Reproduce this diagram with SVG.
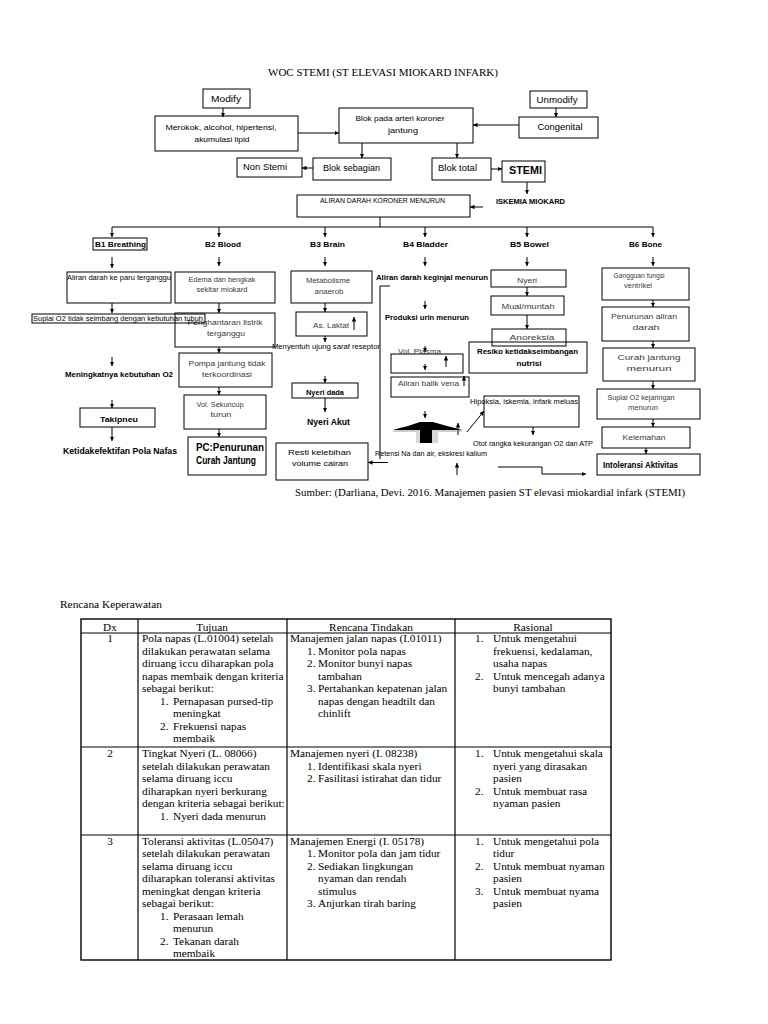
<svg xmlns="http://www.w3.org/2000/svg" width="768" height="1024" viewBox="0 0 768 1024">
<defs>
<marker id="ah" viewBox="0 0 10 10" refX="10" refY="5" markerWidth="4.5" markerHeight="4.5" orient="auto"><path d="M0,0 L10,5 L0,10 z" fill="#000"/></marker>
<style>
.box{fill:none;stroke:#000;stroke-width:1}
.t{font-family:"Liberation Sans",Arial,sans-serif;fill:#000}
.g{fill:#3a3a3a}
.b{font-weight:bold}
.c{text-anchor:middle}
.s{font-family:"Liberation Serif","Times New Roman",serif;fill:#000}
.tb{font-family:"Liberation Serif","Times New Roman",serif;font-size:11.3px;fill:#000}
.conn path{fill:none;stroke:#000;stroke-width:1}
.conn .a{marker-end:url(#ah)}
.grid line{stroke:#000;stroke-width:1.2}
</style>
</defs>
<rect width="768" height="1024" fill="#fff"/>

<text class="s c" x="383" y="75.5" font-size="10" textLength="230" lengthAdjust="spacingAndGlyphs">WOC STEMI (ST ELEVASI MIOKARD INFARK)</text>

<g id="connectors" class="conn">
<path class="a" d="M223,108 V117"/>
<path class="a" d="M298,133 H339"/>
<path class="a" d="M556,108 V117"/>
<path class="a" d="M519,125 H473"/>
<path class="a" d="M362,143 V158"/>
<path class="a" d="M313,168 H302"/>
<path class="a" d="M457,143 V158"/>
<path class="a" d="M491,169 H502"/>
<path class="a" d="M527,182 V194"/>
<path class="a" d="M483,207 H470"/>
<path d="M380,217 V227"/>
<path d="M112,227 H653"/>
<path class="a" d="M112,227 V237"/>
<path class="a" d="M219,227 V237"/>
<path class="a" d="M325,227 V237"/>
<path class="a" d="M425,227 V237"/>
<path class="a" d="M527,227 V237"/>
<path class="a" d="M653,227 V237"/>
<path class="a" d="M112,257 V268"/>
<path class="a" d="M219,257 V266"/>
<path class="a" d="M325,257 V266"/>
<path class="a" d="M425,257 V266"/>
<path class="a" d="M527,257 V266"/>
<path class="a" d="M653,257 V266"/>
<path class="a" d="M112,303 V313"/>
<path class="a" d="M112,357 V366"/>
<path class="a" d="M112,400 V408"/>
<path class="a" d="M112,427 V441"/>
<path class="a" d="M219,303 V313"/>
<path class="a" d="M219,347 V353"/>
<path class="a" d="M219,387 V395"/>
<path class="a" d="M219,429 V437"/>
<path class="a" d="M325,303 V312"/>
<path class="a" d="M325,336 V342"/>
<path class="a" d="M325,376 V383"/>
<path class="a" d="M325,398 V412"/>
<path class="a" d="M354,330 V317"/>
<path class="a" d="M425,301 V309"/>
<path class="a" d="M425,346 V352"/>
<path class="a" d="M425,364 V370"/>
<path class="a" d="M446,367 V356"/>
<path class="a" d="M464,386 V376"/>
<path class="a" d="M425,411 V418"/>
<path class="a" d="M458,435 V423"/>
<path d="M390,286 H380 V459"/>
<path class="a" d="M388,462.5 H368"/>
<path class="a" d="M457,475 V463"/>
<path class="a" d="M467,432 L484,411"/>
<path class="a" d="M533,427 V435"/>
<path d="M498,467 H542 V474"/>
<path class="a" d="M542,474 H586"/>
<path class="a" d="M527,287 V296"/>
<path class="a" d="M527,315 V329"/>
<path class="a" d="M653,300 V307"/>
<path class="a" d="M653,341 V348"/>
<path class="a" d="M653,381 V389"/>
<path class="a" d="M653,419 V427"/>
<path class="a" d="M646,448 V454"/>
</g>

<g id="n-modify"><rect class="box" x="203" y="89" width="47" height="19"/><text class="t c" x="226" y="101.5" font-size="8.5" textLength="30" lengthAdjust="spacingAndGlyphs">Modify</text></g>
<g id="n-unmodify"><rect class="box" x="530" y="91" width="57" height="17"/><text class="t c" x="557" y="103" font-size="8.5" textLength="41" lengthAdjust="spacingAndGlyphs">Unmodify</text></g>
<g id="n-risk"><rect class="box" x="155" y="116" width="143" height="35"/>
<text class="t c" x="221" y="130" font-size="7.5" textLength="111" lengthAdjust="spacingAndGlyphs">Merokok, alcohol, hipertensi,</text>
<text class="t c" x="222" y="141.5" font-size="7.5" textLength="55" lengthAdjust="spacingAndGlyphs">akumulasi lipid</text></g>
<g id="n-blok"><rect class="box" x="339" y="108" width="134" height="35"/>
<text class="t c" x="400" y="121" font-size="7.5" textLength="89" lengthAdjust="spacingAndGlyphs">Blok pada arteri koroner</text>
<text class="t c" x="403" y="133" font-size="7.5" textLength="30" lengthAdjust="spacingAndGlyphs">jantung</text></g>
<g id="n-congenital"><rect class="box" x="519" y="117" width="79" height="21"/><text class="t c" x="560" y="129.5" font-size="9" textLength="45" lengthAdjust="spacingAndGlyphs">Congenital</text></g>
<g id="n-sebagian"><rect class="box" x="313" y="158" width="78" height="22"/><text class="t" x="323" y="170.5" font-size="8.5" textLength="57" lengthAdjust="spacingAndGlyphs">Blok sebagian</text></g>
<g id="n-nonstemi"><rect class="box" x="237" y="158" width="65" height="19"/><text class="t" x="243" y="170" font-size="9" textLength="44" lengthAdjust="spacingAndGlyphs">Non Stemi</text></g>
<g id="n-total"><rect class="box" x="432" y="158" width="59" height="22"/><text class="t" x="438" y="170.5" font-size="8.5" textLength="39" lengthAdjust="spacingAndGlyphs">Blok total</text></g>
<g id="n-stemi"><rect class="box" x="502" y="161" width="43" height="21" stroke-width="1.3"/><text class="t b" x="509" y="174" font-size="11" textLength="33" lengthAdjust="spacingAndGlyphs">STEMI</text></g>
<g id="n-iskemia"><text class="t b" x="496" y="204.3" font-size="7.3" textLength="69" lengthAdjust="spacingAndGlyphs">ISKEMIA MIOKARD</text></g>
<g id="n-aliran"><rect class="box" x="297" y="195" width="173" height="22"/><text class="t" x="320" y="202.5" font-size="6.5" textLength="125" lengthAdjust="spacingAndGlyphs">ALIRAN DARAH KORONER MENURUN</text></g>

<g id="n-b1"><rect class="box" x="93" y="238" width="54" height="12"/><text class="t b" x="95" y="246.5" font-size="8" textLength="51" lengthAdjust="spacingAndGlyphs">B1 Breathing</text></g>
<g id="n-b2"><text class="t b" x="205" y="246.5" font-size="8" textLength="36" lengthAdjust="spacingAndGlyphs">B2 Blood</text></g>
<g id="n-b3"><text class="t b" x="310" y="246.5" font-size="8" textLength="35" lengthAdjust="spacingAndGlyphs">B3 Brain</text></g>
<g id="n-b4"><text class="t b" x="403" y="246.5" font-size="8" textLength="45" lengthAdjust="spacingAndGlyphs">B4 Bladder</text></g>
<g id="n-b5"><text class="t b" x="510" y="246.5" font-size="8" textLength="39" lengthAdjust="spacingAndGlyphs">B5 Bowel</text></g>
<g id="n-b6"><text class="t b" x="629" y="246.5" font-size="8" textLength="33" lengthAdjust="spacingAndGlyphs">B6 Bone</text></g>

<g id="n-paru"><rect class="box" x="67" y="272" width="104" height="31"/><text class="t" x="67" y="279.5" font-size="7" textLength="104" lengthAdjust="spacingAndGlyphs">Aliran darah ke paru terganggu</text></g>
<g id="n-edema"><rect class="box" x="175" y="272" width="100" height="31"/>
<text class="t g c" x="222" y="281.5" font-size="7.5" textLength="67" lengthAdjust="spacingAndGlyphs">Edema dan bengkak</text>
<text class="t g c" x="222" y="292" font-size="7.5" textLength="51" lengthAdjust="spacingAndGlyphs">sekitar miokard</text></g>
<g id="n-hantaran"><rect class="box" x="175" y="313" width="100" height="34"/>
<text class="t g c" x="225" y="324.5" font-size="7.5" textLength="75" lengthAdjust="spacingAndGlyphs">Penghantaran listrik</text>
<text class="t g c" x="226" y="335.5" font-size="7.5" textLength="38" lengthAdjust="spacingAndGlyphs">terganggu</text></g>
<g id="n-suplai"><rect class="box" x="32" y="314" width="173" height="9"/><text class="t" x="33" y="321" font-size="7" textLength="170" lengthAdjust="spacingAndGlyphs">Suplai O2 tidak seimbang dengan kebutuhan tubuh</text></g>
<g id="n-meningkat"><text class="t b" x="65" y="377" font-size="7" textLength="108" lengthAdjust="spacingAndGlyphs">Meningkatnya kebutuhan O2</text></g>
<g id="n-takipneu"><rect class="box" x="80" y="408" width="75" height="19"/><text class="t b" x="100" y="421.5" font-size="7.5" textLength="38" lengthAdjust="spacingAndGlyphs">Takipneu</text></g>
<g id="n-ketidak"><text class="t b" x="63" y="453.5" font-size="9" textLength="114" lengthAdjust="spacingAndGlyphs">Ketidakefektifan Pola Nafas</text></g>

<g id="n-pompa"><rect class="box" x="179" y="353" width="93" height="34"/>
<text class="t g c" x="227" y="365.5" font-size="7.5" textLength="77" lengthAdjust="spacingAndGlyphs">Pompa jantung tidak</text>
<text class="t g c" x="227" y="376.5" font-size="7.5" textLength="50" lengthAdjust="spacingAndGlyphs">terkoordinasi</text></g>
<g id="n-sekuncup"><rect class="box" x="184" y="395" width="82" height="34"/>
<text class="t g c" x="220" y="406.5" font-size="7.5" textLength="47" lengthAdjust="spacingAndGlyphs">Vol. Sekuncup</text>
<text class="t g c" x="221" y="416.5" font-size="7.5" textLength="21" lengthAdjust="spacingAndGlyphs">turun</text></g>
<g id="n-pc"><rect class="box" x="188" y="437" width="78" height="38"/>
<text class="t b" x="196" y="451" font-size="10" textLength="68" lengthAdjust="spacingAndGlyphs">PC:Penurunan</text>
<text class="t b" x="196" y="463.5" font-size="10" textLength="60" lengthAdjust="spacingAndGlyphs">Curah Jantung</text></g>

<g id="n-metabolisme"><rect class="box" x="291" y="271" width="81" height="32"/>
<text class="t g c" x="328" y="282.5" font-size="7.5" textLength="44" lengthAdjust="spacingAndGlyphs">Metabolisme</text>
<text class="t g c" x="329" y="293.5" font-size="7.5" textLength="29" lengthAdjust="spacingAndGlyphs">anaerob</text></g>
<g id="n-laktat"><rect class="box" x="296" y="312" width="71" height="24"/><text class="t g" x="313" y="328" font-size="8" textLength="36" lengthAdjust="spacingAndGlyphs">As. Laktat</text></g>
<g id="n-menyentuh"><text class="t" x="272" y="348.5" font-size="7" textLength="108" lengthAdjust="spacingAndGlyphs">Menyentuh ujung saraf reseptor</text></g>
<g id="n-nyeridada"><rect class="box" x="292" y="383" width="66" height="15"/><text class="t b" x="306" y="394.5" font-size="7.5" textLength="38" lengthAdjust="spacingAndGlyphs">Nyeri dada</text></g>
<g id="n-nyeriakut"><text class="t b" x="307" y="424.5" font-size="9.5" textLength="43" lengthAdjust="spacingAndGlyphs">Nyeri Akut</text></g>
<g id="n-resti"><rect class="box" x="276" y="443" width="92" height="37"/>
<text class="t" x="288" y="455" font-size="8" fill="#222" textLength="63" lengthAdjust="spacingAndGlyphs">Resti kelebihan</text>
<text class="t" x="292" y="466" font-size="8" fill="#222" textLength="56" lengthAdjust="spacingAndGlyphs">volume cairan</text></g>

<g id="n-ginjal"><text class="t b" x="376" y="279.5" font-size="7" textLength="112" lengthAdjust="spacingAndGlyphs">Aliran darah keginjal menurun</text></g>
<g id="n-urin"><text class="t b" x="385" y="319.5" font-size="7" textLength="84" lengthAdjust="spacingAndGlyphs">Produksi urin menurun</text></g>
<g id="n-plasma"><rect class="box" x="391" y="354" width="72" height="19"/><text class="t g" x="398" y="353.5" font-size="8" textLength="43" lengthAdjust="spacingAndGlyphs">Vol. Plasma</text></g>
<g id="n-vena"><rect class="box" x="391" y="377" width="78" height="20"/><text class="t g" x="398" y="385.5" font-size="7.5" textLength="61" lengthAdjust="spacingAndGlyphs">Aliran balik vena</text></g>
<g id="n-shape">
<polygon points="393,430 400,428 408,426 414,424 420,422 433,422 440,424 447,426 455,428 462,430" fill="#000"/>
<line x1="393" y1="431" x2="462" y2="431" stroke="#999" stroke-width="1"/>
<rect x="416" y="431" width="22" height="12" fill="#d8d8d8"/>
<rect x="420" y="430" width="12" height="13" fill="#000"/>
</g>
<g id="n-retensi"><text class="t" x="375" y="455.5" font-size="7" textLength="112" lengthAdjust="spacingAndGlyphs">Retensi Na dan air, ekskresi kalium</text></g>

<g id="n-nyeri"><rect class="box" x="491" y="270" width="75" height="17"/><text class="t g c" x="527" y="282.5" font-size="8" textLength="20" lengthAdjust="spacingAndGlyphs">Nyeri</text></g>
<g id="n-mual"><rect class="box" x="491" y="296" width="73" height="19"/><text class="t g c" x="528" y="309" font-size="8" textLength="53" lengthAdjust="spacingAndGlyphs">Mual/muntah</text></g>
<g id="n-anoreksia"><rect class="box" x="492" y="329" width="74" height="17"/><text class="t g c" x="532" y="340" font-size="8" textLength="45" lengthAdjust="spacingAndGlyphs">Anoreksia</text></g>
<g id="n-resiko"><rect class="box" x="469" y="342" width="118" height="31"/>
<text class="t b" x="477" y="353.5" font-size="8" textLength="101" lengthAdjust="spacingAndGlyphs">Resiko ketidakseimbangan</text>
<text class="t b c" x="529" y="366" font-size="8" textLength="25" lengthAdjust="spacingAndGlyphs">nutrisi</text></g>
<g id="n-hipoksia"><rect class="box" x="484" y="396" width="95" height="31"/><text class="t" x="470" y="403.5" font-size="6.5" textLength="108" lengthAdjust="spacingAndGlyphs">Hipoksia, iskemia, infark meluas</text></g>
<g id="n-otot"><text class="t" x="473" y="445.5" font-size="7" textLength="120" lengthAdjust="spacingAndGlyphs">Otot rangka kekurangan O2 dan ATP</text></g>

<g id="n-gangguan"><rect class="box" x="602" y="268" width="87" height="32"/>
<text class="t g c" x="639" y="277.5" font-size="6.5" textLength="51" lengthAdjust="spacingAndGlyphs">Gangguan fungsi</text>
<text class="t g c" x="638" y="287.5" font-size="6.5" textLength="28" lengthAdjust="spacingAndGlyphs">ventrikel</text></g>
<g id="n-penurunan"><rect class="box" x="602" y="307" width="87" height="34"/>
<text class="t g c" x="644" y="319" font-size="8" textLength="66" lengthAdjust="spacingAndGlyphs">Penurunan aliran</text>
<text class="t g c" x="646" y="330" font-size="8" textLength="27" lengthAdjust="spacingAndGlyphs">darah</text></g>
<g id="n-curah"><rect class="box" x="603" y="348" width="92" height="33"/>
<text class="t g c" x="649" y="360" font-size="8" textLength="63" lengthAdjust="spacingAndGlyphs">Curah jantung</text>
<text class="t g c" x="649" y="371" font-size="8" textLength="45" lengthAdjust="spacingAndGlyphs">menurun</text></g>
<g id="n-suplaio2"><rect class="box" x="597" y="389" width="103" height="30"/>
<text class="t g c" x="641" y="399.5" font-size="7" textLength="67" lengthAdjust="spacingAndGlyphs">Suplai O2 kejaringan</text>
<text class="t g c" x="643" y="409.5" font-size="7" textLength="30" lengthAdjust="spacingAndGlyphs">menurun</text></g>
<g id="n-kelemahan"><rect class="box" x="602" y="427" width="88" height="21"/><text class="t g c" x="644" y="440" font-size="8" textLength="43" lengthAdjust="spacingAndGlyphs">Kelemahan</text></g>
<g id="n-intoleransi"><rect class="box" x="597" y="454" width="103" height="21"/><text class="t b" x="603" y="468" font-size="8.5" textLength="75" lengthAdjust="spacingAndGlyphs">Intoleransi Aktivitas</text></g>

<text class="s" x="295" y="496" font-size="10.5" textLength="390" lengthAdjust="spacingAndGlyphs">Sumber: (Darliana, Devi. 2016. Manajemen pasien ST elevasi miokardial infark (STEMI)</text>

<text class="s" x="60" y="608" font-size="11" textLength="102" lengthAdjust="spacingAndGlyphs">Rencana Keperawatan</text>

<g id="table">
<g class="grid">
<rect x="81" y="619" width="530" height="341" fill="none" stroke="#000" stroke-width="1.4"/>
<line x1="81" y1="633" x2="611" y2="633"/>
<line x1="81" y1="747" x2="611" y2="747"/>
<line x1="81" y1="835" x2="611" y2="835"/>
<line x1="138" y1="619" x2="138" y2="960"/>
<line x1="287" y1="619" x2="287" y2="960"/>
<line x1="455" y1="619" x2="455" y2="960"/>
</g>
<text class="tb c" x="110" y="631">Dx</text>
<text class="tb c" x="212" y="631">Tujuan</text>
<text class="tb c" x="371" y="631">Rencana Tindakan</text>
<text class="tb c" x="533" y="631">Rasional</text>

<text class="tb c" x="110" y="642">1</text>
<text class="tb" x="142" y="642">Pola napas (L.01004) setelah</text>
<text class="tb" x="142" y="654.5">dilakukan perawatan selama</text>
<text class="tb" x="142" y="667">diruang iccu diharapkan pola</text>
<text class="tb" x="142" y="679.5">napas membaik dengan kriteria</text>
<text class="tb" x="142" y="692">sebagai berikut:</text>
<text class="tb" x="160" y="704.5">1.</text><text class="tb" x="173" y="704.5">Pernapasan pursed-tip</text>
<text class="tb" x="173" y="717">meningkat</text>
<text class="tb" x="160" y="729.5">2.</text><text class="tb" x="173" y="729.5">Frekuensi napas</text>
<text class="tb" x="173" y="742">membaik</text>

<text class="tb" x="290" y="642">Manajemen jalan napas (I.01011)</text>
<text class="tb" x="307" y="654.5">1.</text><text class="tb" x="318" y="654.5">Monitor pola napas</text>
<text class="tb" x="307" y="667">2.</text><text class="tb" x="318" y="667">Monitor bunyi napas</text>
<text class="tb" x="318" y="679.5">tambahan</text>
<text class="tb" x="307" y="692">3.</text><text class="tb" x="318" y="692">Pertahankan kepatenan jalan</text>
<text class="tb" x="318" y="704.5">napas dengan headtilt dan</text>
<text class="tb" x="318" y="717">chinlift</text>

<text class="tb" x="475" y="642">1.</text><text class="tb" x="493" y="642">Untuk mengetahui</text>
<text class="tb" x="493" y="654.5">frekuensi, kedalaman,</text>
<text class="tb" x="493" y="667">usaha napas</text>
<text class="tb" x="475" y="679.5">2.</text><text class="tb" x="493" y="679.5">Untuk mencegah adanya</text>
<text class="tb" x="493" y="692">bunyi tambahan</text>

<text class="tb c" x="110" y="757">2</text>
<text class="tb" x="142" y="757">Tingkat Nyeri (L. 08066)</text>
<text class="tb" x="142" y="769.5">setelah dilakukan perawatan</text>
<text class="tb" x="142" y="782">selama diruang iccu</text>
<text class="tb" x="142" y="794.5">diharapkan nyeri berkurang</text>
<text class="tb" x="142" y="807">dengan kriteria sebagai berikut:</text>
<text class="tb" x="160" y="819.5">1.</text><text class="tb" x="173" y="819.5">Nyeri dada menurun</text>

<text class="tb" x="290" y="757">Manajemen nyeri (I. 08238)</text>
<text class="tb" x="307" y="769.5">1.</text><text class="tb" x="318" y="769.5">Identifikasi skala nyeri</text>
<text class="tb" x="307" y="782">2.</text><text class="tb" x="318" y="782">Fasilitasi istirahat dan tidur</text>

<text class="tb" x="475" y="757">1.</text><text class="tb" x="493" y="757">Untuk mengetahui skala</text>
<text class="tb" x="493" y="769.5">nyeri yang dirasakan</text>
<text class="tb" x="493" y="782">pasien</text>
<text class="tb" x="475" y="794.5">2.</text><text class="tb" x="493" y="794.5">Untuk membuat rasa</text>
<text class="tb" x="493" y="807">nyaman pasien</text>

<text class="tb c" x="110" y="844.7">3</text>
<text class="tb" x="142" y="844.7">Toleransi aktivitas (L.05047)</text>
<text class="tb" x="142" y="857.2">setelah dilakukan perawatan</text>
<text class="tb" x="142" y="869.7">selama diruang iccu</text>
<text class="tb" x="142" y="882.2">diharapkan toleransi aktivitas</text>
<text class="tb" x="142" y="894.7">meningkat dengan kriteria</text>
<text class="tb" x="142" y="907.2">sebagai berikut:</text>
<text class="tb" x="160" y="919.7">1.</text><text class="tb" x="173" y="919.7">Perasaan lemah</text>
<text class="tb" x="173" y="932.2">menurun</text>
<text class="tb" x="160" y="944.7">2.</text><text class="tb" x="173" y="944.7">Tekanan darah</text>
<text class="tb" x="173" y="957.2">membaik</text>

<text class="tb" x="290" y="844.7">Manajemen Energi (I. 05178)</text>
<text class="tb" x="307" y="857.2">1.</text><text class="tb" x="318" y="857.2">Monitor pola dan jam tidur</text>
<text class="tb" x="307" y="869.7">2.</text><text class="tb" x="318" y="869.7">Sediakan lingkungan</text>
<text class="tb" x="318" y="882.2">nyaman dan rendah</text>
<text class="tb" x="318" y="894.7">stimulus</text>
<text class="tb" x="307" y="907.2">3.</text><text class="tb" x="318" y="907.2">Anjurkan tirah baring</text>

<text class="tb" x="475" y="844.7">1.</text><text class="tb" x="493" y="844.7">Untuk mengetahui pola</text>
<text class="tb" x="493" y="857.2">tidur</text>
<text class="tb" x="475" y="869.7">2.</text><text class="tb" x="493" y="869.7">Untuk membuat nyaman</text>
<text class="tb" x="493" y="882.2">pasien</text>
<text class="tb" x="475" y="894.7">3.</text><text class="tb" x="493" y="894.7">Untuk membuat nyama</text>
<text class="tb" x="493" y="907.2">pasien</text>
</g>
</svg>
